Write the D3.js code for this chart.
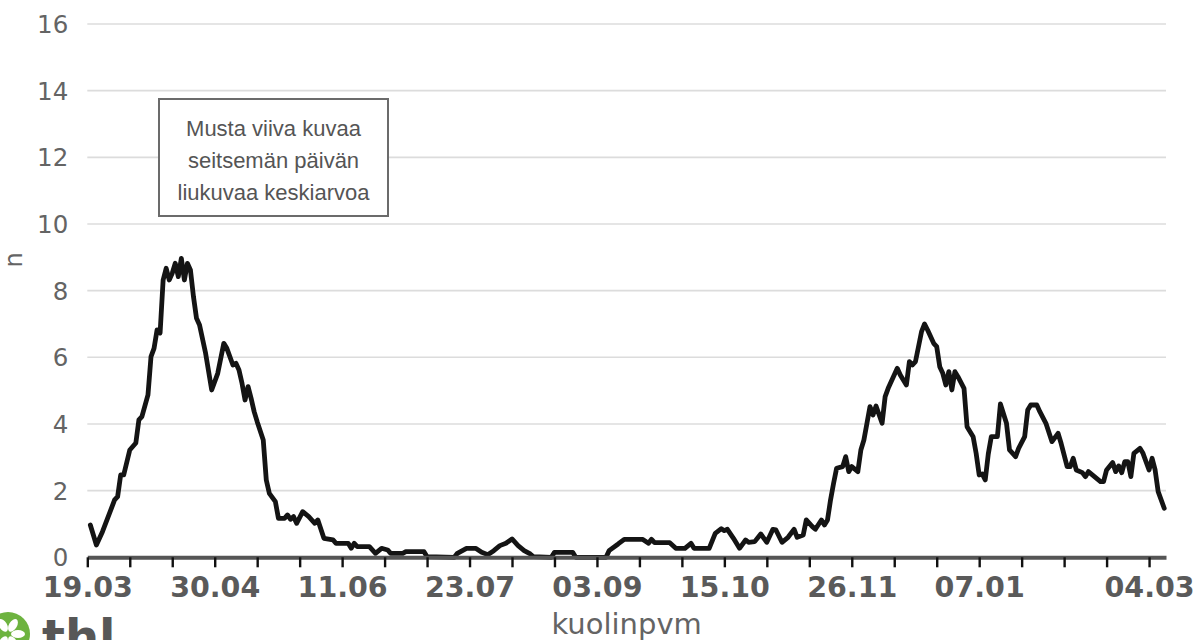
<!DOCTYPE html>
<html>
<head>
<meta charset="utf-8">
<script src="https://cdn.jsdelivr.net/npm/d3@7"></script>
<style>
  html, body { margin: 0; padding: 0; background: #fff; }
  svg { display: block; }
</style>
</head>
<body>
<svg id="chart" width="1198" height="640"></svg>
<script>
// ---- data ----
const startDay = "2020-03-19";           // first tick of the time axis
const endDay = "2021-03-09T14:00:00Z";   // end of the axis line
// day offsets from startDay, and the 7-day moving average of deaths (n)
const dayOffsets = [
  1, 3, 5, 9, 10, 11, 12, 14, 16, 17, 18, 20, 21, 22, 23, 24, 25, 26, 27, 28,
  29, 30, 31, 32, 33, 34, 35, 36, 37, 39, 41, 43, 45, 46, 48, 49, 50, 51, 52, 53,
  54, 55, 56, 58, 59, 60, 62, 63, 65, 66, 67, 68, 69, 71, 73, 75, 76, 78, 81, 82,
  86, 87, 88, 89, 93, 95, 97, 99, 100, 104, 105, 111, 112, 121, 122, 125, 128, 130, 132, 134,
  136, 138, 140, 142, 144, 146, 147, 153, 154, 160, 161, 171, 172, 175, 177, 183, 185, 186, 187, 192,
  194, 197, 199, 200, 205, 207, 209, 210, 211, 213, 215, 217, 218, 220, 222, 224, 226, 227, 229, 231,
  233, 234, 236, 237, 239, 240, 242, 243, 244, 245, 246, 247, 249, 250, 251, 252, 254, 255, 256, 257,
  258, 259, 260, 262, 263, 264, 267, 268, 270, 271, 272, 273, 275, 276, 277, 279, 280, 281, 282, 283,
  284, 285, 286, 287, 289, 290, 292, 293, 294, 295, 296, 297, 298, 300, 301, 303, 304, 306, 307, 309,
  310, 311, 313, 314, 316, 318, 320, 321, 323, 324, 325, 326, 328, 329, 330, 332, 334, 335, 336, 338,
  339, 340, 341, 342, 343, 344, 345, 347, 348, 350, 351, 352, 353, 355
];
const values = [
  0.97, 0.37, 0.77, 1.72, 1.82, 2.47, 2.47, 3.22, 3.43, 4.12, 4.22, 4.87, 6.02, 6.27, 6.82, 6.73, 8.32, 8.67, 8.32, 8.52,
  8.82, 8.42, 8.97, 8.32, 8.82, 8.62, 7.82, 7.17, 6.97, 6.12, 5.02, 5.52, 6.42, 6.27, 5.77, 5.82, 5.62, 5.22, 4.72, 5.12,
  4.77, 4.37, 4.07, 3.52, 2.32, 1.92, 1.67, 1.17, 1.17, 1.27, 1.14, 1.22, 1.02, 1.37, 1.22, 1.02, 1.12, 0.57, 0.52, 0.42,
  0.42, 0.27, 0.42, 0.32, 0.32, 0.12, 0.27, 0.22, 0.12, 0.12, 0.17, 0.17, 0.02, 0.0, 0.12, 0.27, 0.27, 0.15, 0.08, 0.2,
  0.35, 0.42, 0.55, 0.35, 0.2, 0.1, 0.02, 0.0, 0.15, 0.15, 0.0, 0.0, 0.2, 0.4, 0.54, 0.54, 0.42, 0.54, 0.44, 0.44,
  0.27, 0.27, 0.42, 0.27, 0.27, 0.72, 0.86, 0.8, 0.84, 0.57, 0.27, 0.52, 0.45, 0.47, 0.7, 0.45, 0.84, 0.82, 0.45, 0.6,
  0.84, 0.6, 0.67, 1.12, 0.92, 0.84, 1.12, 0.97, 1.12, 1.72, 2.22, 2.67, 2.72, 3.02, 2.57, 2.72, 2.57, 3.22, 3.52, 4.02,
  4.52, 4.27, 4.54, 4.02, 4.82, 5.07, 5.67, 5.47, 5.17, 5.87, 5.77, 5.87, 6.77, 7.0, 6.82, 6.42, 6.32, 5.72, 5.52, 5.17,
  5.57, 5.02, 5.57, 5.42, 5.07, 3.92, 3.62, 3.12, 2.47, 2.5, 2.32, 3.1, 3.62, 3.62, 4.6, 4.02, 3.22, 3.02, 3.27, 3.62,
  4.42, 4.57, 4.57, 4.37, 4.02, 3.47, 3.72, 3.42, 2.72, 2.72, 2.97, 2.62, 2.54, 2.42, 2.57, 2.42, 2.27, 2.27, 2.62, 2.84,
  2.57, 2.74, 2.54, 2.87, 2.87, 2.42, 3.12, 3.27, 3.12, 2.62, 2.97, 2.62, 1.97, 1.47
];
const yTicks = [0, 2, 4, 6, 8, 10, 12, 14, 16];
const xTickStepDays = 14;
const xTickCount = 26;
const xTickLabels = ["19.03", "30.04", "11.06", "23.07", "03.09", "15.10", "26.11", "07.01", "04.03"];
const yTitle = "n";
const xTitle = "kuolinpvm";
const noteLines = ["Musta viiva kuvaa", "seitsemän päivän", "liukuvaa keskiarvoa"];
const logoText = "thl";

// ---- drawing ----
const svg = d3.select("#chart");
const DAY = 864e5;
const t0 = new Date(startDay + "T00:00:00Z");
const dayDate = d => new Date(t0.getTime() + d * DAY);

const x = d3.scaleUtc().domain([t0, new Date(endDay)]).range([87.3, 1166]);
const y = d3.scaleLinear().domain([0, 16]).range([557.3, 24]);

// grid lines
svg.append("g").selectAll("line").data(yTicks.filter(v => v > 0)).join("line")
  .attr("x1", x.range()[0]).attr("x2", x.range()[1])
  .attr("y1", d => y(d)).attr("y2", d => y(d))
  .attr("stroke", "#dcdcdc").attr("stroke-width", 1.6);

// y tick labels
const yAxis = svg.append("g").attr("transform", `translate(${x.range()[0]},0)`)
  .call(d3.axisLeft(y).tickValues(yTicks).tickSize(0).tickPadding(19).tickFormat(d3.format("d")));
yAxis.select(".domain").remove();
yAxis.selectAll("text")
  .attr("font-family", "DejaVu Sans").attr("font-size", 24.5).attr("fill", "#646464").attr("dy", "0.35em");

// y title
svg.append("text").attr("transform", "translate(22,260) rotate(-90)")
  .attr("text-anchor", "middle").attr("font-family", "DejaVu Sans").attr("font-size", 24)
  .attr("fill", "#646464").text(yTitle);

// data line
const pts = dayOffsets.map((d, i) => [dayDate(d), values[i]]);
svg.append("path").datum(pts)
  .attr("d", d3.line().x(d => x(d[0])).y(d => y(d[1])))
  .attr("fill", "none").attr("stroke", "#141414").attr("stroke-width", 4.8)
  .attr("stroke-linejoin", "round").attr("stroke-linecap", "round");

// x axis
const tickDates = d3.range(xTickCount).map(i => dayDate(i * xTickStepDays));
const fmt = d3.utcFormat("%d.%m");
const xAxis = svg.append("g").attr("transform", `translate(0,${y(0)})`)
  .call(d3.axisBottom(x).tickValues(tickDates).tickSize(10).tickSizeOuter(0)
    .tickFormat(d => xTickLabels.includes(fmt(d)) ? fmt(d) : ""));
xAxis.select(".domain").attr("stroke", "#555").attr("stroke-width", 4);
xAxis.selectAll(".tick line").attr("stroke", "#111").attr("stroke-width", 2.4);
xAxis.selectAll("text")
  .attr("y", 40).attr("dy", 0)
  .attr("font-family", "DejaVu Sans").attr("font-weight", "bold").attr("font-size", 28.5)
  .attr("fill", "#5a5a5a");

// x title
svg.append("text").attr("x", (x.range()[0] + x.range()[1]) / 2).attr("y", 634)
  .attr("text-anchor", "middle").attr("font-family", "DejaVu Sans").attr("font-size", 29)
  .attr("fill", "#646464").text(xTitle);

// annotation box
const note = svg.append("g");
note.append("rect").attr("x", 159).attr("y", 99).attr("width", 229).attr("height", 117)
  .attr("fill", "#fff").attr("stroke", "#6b6b6b").attr("stroke-width", 2);
note.selectAll("text").data(noteLines).join("text")
  .attr("x", 273.5).attr("y", (d, i) => 136 + i * 32)
  .attr("text-anchor", "middle").attr("font-family", "Liberation Sans, Arial, sans-serif")
  .attr("font-size", 22).attr("fill", "#555").text(d => d);

// logo
const logo = svg.append("g");
logo.append("circle").attr("cx", 8).attr("cy", 634).attr("r", 22).attr("fill", "#6db33f");
[-30, 30, 90, 150, 210].forEach(a => {
  logo.append("ellipse").attr("cx", 8).attr("cy", 634 - 10).attr("rx", 4).attr("ry", 7)
    .attr("fill", "#fff").attr("transform", `rotate(${a},8,634)`);
});
logo.append("text").attr("x", 42).attr("y", 654).attr("font-family", "DejaVu Sans")
  .attr("font-weight", "bold").attr("font-size", 48).attr("fill", "#575757").text(logoText);
</script>
</body>
</html>
